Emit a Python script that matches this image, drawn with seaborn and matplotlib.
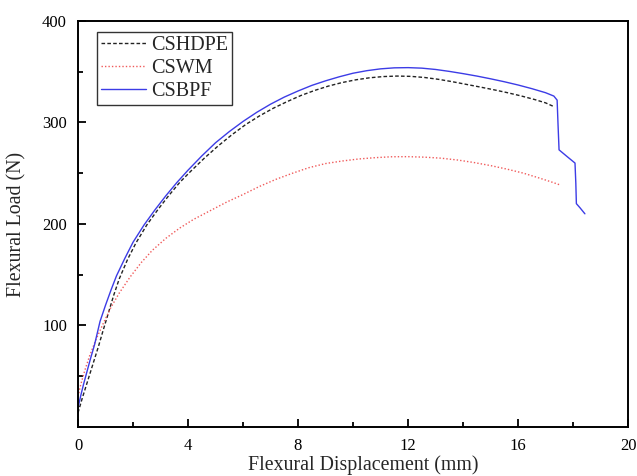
import matplotlib
matplotlib.use("Agg")
import matplotlib.pyplot as plt
from matplotlib.ticker import MultipleLocator, FixedLocator
import seaborn as sns
import pandas as pd

# ---- data ----
hdpe_x = [0, 0.15, 0.3, 0.45, 0.6, 0.75, 0.9, 1.1, 1.3, 1.5, 1.8, 2.1, 2.5, 2.9, 3.3, 3.7,
          4.1, 4.6, 5.1, 5.6, 6.1, 6.6, 7.1, 7.6, 8.1, 8.6, 9.1, 9.6, 10.1, 10.6, 11.1,
          11.6, 12.1, 12.6, 13.1, 13.6, 14.1, 14.6, 15.1, 15.6, 16.1, 16.6, 17.0, 17.27]
hdpe_y = [14, 28, 41, 54, 67, 80, 94, 112, 130, 146, 165, 181, 199, 214, 228, 241,
          252, 265, 277, 288, 298, 306.5, 314, 320.5, 326.5, 331.5, 335.8, 339.3, 342, 344, 345.2,
          345.7, 345.4, 344.3, 342.5, 340.2, 337.6, 335, 332.3, 329.4, 326.2, 322.6, 319.3, 316]

wm_x = [0, 0.1, 0.25, 0.42, 0.65, 0.9, 1.2, 1.5, 1.9, 2.3, 2.7, 3.2, 3.7, 4.2, 4.8, 5.4,
        6.0, 6.6, 7.2, 7.8, 8.4, 9.0, 9.6, 10.2, 10.8, 11.4, 12.0, 12.6, 13.2, 13.8,
        14.4, 15.0, 15.6, 16.2, 16.8, 17.2, 17.52]
wm_y = [30, 42, 56, 70, 86, 101, 118, 132, 148, 162, 174, 186, 196, 204.5, 213, 221.5,
        229, 237, 244, 250, 255.5, 259.5, 262, 264, 265.3, 266.2, 266.3, 265.8, 264.8, 263,
        260.5, 257.5, 254, 250, 245, 241.5, 238.5]

bpf_x = [0, 0.1, 0.2, 0.3, 0.45, 0.6, 0.8, 1.0, 1.2, 1.4, 1.7, 2.0, 2.4, 2.8, 3.2, 3.6,
         4.0, 4.5, 5.0, 5.5, 6.0, 6.5, 7.0, 7.5, 8.0, 8.5, 9.0, 9.5, 10.0, 10.5, 11.0,
         11.5, 12.0, 12.5, 13.0, 13.5, 14.0, 14.5, 15.0, 15.5, 16.0, 16.5, 17.0, 17.3,
         17.42, 17.45, 17.49, 17.8, 18.07, 18.1, 18.12, 18.25, 18.43]
bpf_y = [19, 31, 42, 52, 67, 81, 104, 120, 135, 149, 166, 182, 199, 214, 228, 241,
         253, 267, 280, 291, 301, 310, 318, 325, 331, 336.5, 341, 345, 348.5, 351, 352.8,
         353.8, 354, 353.5, 352.2, 350.3, 348.1, 345.7, 343, 340.1, 336.9, 333.3, 329.3, 326,
         322, 300, 273, 266, 260, 240, 220, 216, 210]

labels = ["CSHDPE", "CSWM", "CSBPF"]
x_ticks = [0, 4, 8, 12, 16, 20]
y_ticks = [100, 200, 300, 400]

# ---- plotting ----
sns.set_style("ticks")
plt.rcParams["font.family"] = ["Liberation Serif", "DejaVu Serif"]

fig = plt.figure(figsize=(6.37, 4.76), dpi=100)
ax = fig.add_axes([0.1225, 0.103, 0.8635, 0.853])

df_h = pd.DataFrame({"x": hdpe_x, "y": hdpe_y})
df_w = pd.DataFrame({"x": wm_x, "y": wm_y})
df_b = pd.DataFrame({"x": bpf_x, "y": bpf_y})

sns.lineplot(data=df_h, x="x", y="y", ax=ax, sort=False, estimator=None,
             color="#222222", linewidth=1.0, linestyle=(0, (2.6, 1.6)), label=labels[0])
sns.lineplot(data=df_w, x="x", y="y", ax=ax, sort=False, estimator=None,
             color="#f05a5a", linewidth=1.0, linestyle=(0, (1, 1.5)), label=labels[1])
sns.lineplot(data=df_b, x="x", y="y", ax=ax, sort=False, estimator=None,
             color="#3c3ce6", linewidth=1.0, linestyle="-", label=labels[2])

ax.set_xlim(0, 20)
ax.set_ylim(0, 400)
ax.xaxis.set_major_locator(FixedLocator(x_ticks))
ax.xaxis.set_minor_locator(MultipleLocator(2))
ax.yaxis.set_major_locator(FixedLocator(y_ticks))
ax.yaxis.set_minor_locator(FixedLocator([50, 150, 250, 350]))
ax.tick_params(which="both", direction="in", top=False, right=False,
               labelsize=12, width=1.3, colors="black")
ax.tick_params(which="major", length=6, pad=8)
ax.tick_params(which="minor", length=3.5)
for s in ax.spines.values():
    s.set_visible(True)
    s.set_linewidth(1.4)
    s.set_color("black")

ax.set_xlabel("Flexural Displacement (mm)", fontsize=14.3)
ax.set_ylabel("Flexural Load (N)", fontsize=14.3)
ax.xaxis.set_label_coords(0.518, -0.069)
ax.yaxis.set_label_coords(-0.093, 0.5)

leg = ax.legend(loc="upper left", bbox_to_anchor=(0.034, 0.974), fontsize=14.5,
                frameon=True, fancybox=False, edgecolor="#333333", framealpha=1,
                handlelength=2.25, handletextpad=0.25, labelspacing=0.2,
                borderpad=0.2, borderaxespad=0)
leg.get_frame().set_linewidth(1.0)

fig.savefig("out.png", dpi=100, facecolor="white")
